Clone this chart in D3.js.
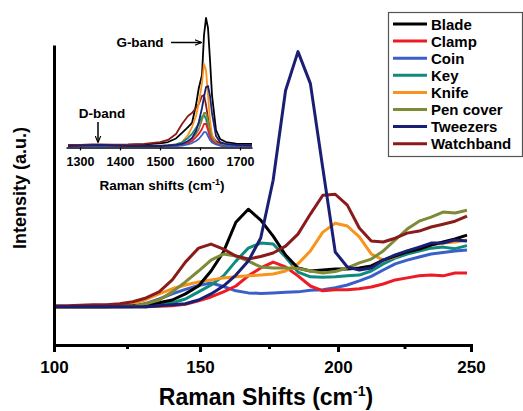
<!DOCTYPE html>
<html>
<head>
<meta charset="utf-8">
<script src="https://cdn.jsdelivr.net/npm/d3@7"></script>
<style>
body { margin: 0; background: #fff; }
text { font-family: Arial, "Liberation Sans", sans-serif; font-weight: bold; fill: #000; }
</style>
</head>
<body>
<script>
// series names and colours, legend order
var names = ['Blade', 'Clamp', 'Coin', 'Key', 'Knife', 'Pen cover', 'Tweezers', 'Watchband']
var colors = ['#000000', '#ed1c24', '#3a5fc8', '#0f8a7e', '#f7941d', '#7e8a36', '#1b1f74', '#8b1b1b']

// main plot x values (cm-1)
var shifts = [100, 104.5, 109, 113.5, 118, 122.5, 127, 131.5, 136, 140.5, 145, 149.5, 154, 158.5, 163, 167.5, 172,
  176.5, 181, 185.5, 190, 194.5, 199, 203.5, 208, 212.5, 217, 221.5, 226, 230.5, 235, 239.5, 244, 248.5]

// main plot intensities (a.u.), one array per sample
var blade = [0, 0, 0, 0, 0, 0.2, 0.4, 0.8, 1.6, 2.7, 5.1, 8.2, 14.1, 21.6, 33.3, 38.4, 34.1, 27.8, 20.4, 15.3,
  14.1, 14.5, 14.9, 14.9, 15.3, 16.1, 18.4, 20, 21.6, 22.7, 24.3, 25.5, 26.7, 28.2]
var clamp = [0, 0, 0, 0, 0, 0, 0, 0, 0.2, 0.4, 1.0, 2.4, 3.9, 5.9, 8.2, 12.2, 15.3, 17.6, 15.7, 12.2,
  8.2, 6.3, 6.7, 6.7, 7.1, 7.8, 9.0, 10.6, 11.4, 12.2, 12.5, 12.2, 13.3, 13.3]
var coin = [0, 0, 0, 0, 0, 0, 0, 1.4, 3.1, 5.1, 6.9, 8.4, 9.4, 8.0, 6.3, 5.5, 5.3, 5.5, 5.7, 5.9,
  6.5, 6.7, 7.5, 8.6, 10.2, 12.0, 14.5, 16.9, 18.4, 19.6, 20.8, 21.4, 22.0, 22.4]
var key = [0, 0, 0, 0, 0, 0, 0, 0, 0.6, 1.6, 3.1, 5.9, 8.6, 12.2, 18.0, 23.1, 25.1, 24.7, 19.6, 13.7,
  11.8, 11.6, 11.8, 12.2, 12.5, 14.1, 16.9, 19.2, 20.8, 22.0, 23.1, 23.5, 22.9, 24.1]
var knife = [0, 0, 0, 0, 0, 0.4, 1.2, 2.9, 5.1, 7.1, 8.6, 9.8, 10.6, 11.4, 11.8, 12.2, 12.5, 12.9, 14.1, 16.9,
  22.0, 29.4, 32.9, 31.8, 27.5, 20.8, 18.4, 19.6, 22.0, 23.1, 24.3, 25.1, 25.5, 26.3]
var penCover = [0, 0, 0, 0, 0, 0, 0.2, 1.2, 2.7, 5.9, 9.8, 14.1, 18.4, 20.8, 20.0, 18.0, 15.7, 15.3, 15.3, 15.1,
  14.1, 13.3, 13.9, 15.3, 17.3, 18.8, 22.0, 26.3, 30.6, 33.7, 35.3, 37.3, 36.9, 38.0]
var tweezers = [0, 0, 0, 0, 0, 0, 0, 0, 0.4, 0.8, 1.2, 2.7, 5.1, 8.2, 12.5, 18.0, 27.1, 49.8, 85.1, 100.4,
  87.8, 54.5, 21.6, 15.7, 14.5, 15.3, 18.4, 20.4, 22.0, 23.5, 25.1, 25.1, 26.3, 25.9]
var watchband = [0.4, 0.4, 0.6, 0.8, 0.8, 1.2, 2.0, 3.5, 5.9, 10.6, 17.6, 23.1, 24.7, 22.7, 20, 18.8, 19.8, 21.2, 23.9, 28.6,
  36.5, 43.9, 44.3, 40, 31, 25.9, 25.5, 27, 29, 29.8, 31.4, 32.5, 33.7, 35.7]

// inset x values (cm-1)
var insetShifts = [1270, 1300, 1330, 1350, 1380, 1420, 1460, 1500, 1520, 1540, 1555, 1570, 1580, 1590, 1597,
  1605, 1610, 1615, 1620, 1625, 1630, 1640, 1650, 1665, 1690, 1730]

// inset intensities
var insetBlade = [0.4, 0.5, 0.6, 0.8, 0.5, 0.8, 1.2, 2.0, 3.1, 5.9, 10.2, 14.8, 18.0, 32.0, 45.3,
  55.5, 86.7, 100, 92.2, 67.2, 39.8, 12.5, 5.5, 3.1, 1.9, 1.6]
var insetClamp = [0, 0, 0, 0, 0, 0, 0, 0, 0, 0.4, 0.8, 2.3, 3.9, 7.0, 9.4,
  13.3, 17.2, 17.2, 12.5, 7.0, 3.9, 1.6, 0.4, 0, 0, 0]
var insetCoin = [0, 0, 0, 0, 0, 0, 0, 0, 0, 0, 0.4, 1.2, 2.3, 3.9, 5.5,
  8.6, 10.9, 10.9, 7.8, 4.7, 2.7, 1.2, 0.4, 0, 0, 0]
var insetKey = [0, 0, 0, 0, 0, 0, 0, 0, 0.4, 1.2, 2.7, 6.3, 9.4, 14.1, 17.2,
  22.7, 24.2, 21.1, 14.1, 7.8, 4.7, 1.6, 0.8, 0.4, 0, 0]
var insetKnife = [0, 0, 0, 0, 0, 0, 0, 0, 0.4, 1.2, 3.1, 8.6, 14.8, 23.4, 33.6,
  49.2, 64.1, 59.4, 39.8, 20.3, 8.6, 2.3, 0.8, 0.4, 0, 0]
var insetPenCover = [0, 0, 0, 0, 0, 0, 0, 0, 0, 0.4, 1.2, 3.1, 5.5, 9.4, 13.3,
  20.3, 25.8, 25.8, 19.5, 11.7, 6.3, 2.3, 0.8, 0.4, 0, 0]
var insetTweezers = [0, 0.3, 0.6, 0.8, 0.4, 0, 0, 0, 0.4, 0.8, 1.6, 3.9, 6.3, 11.7, 18.8,
  29.7, 38.3, 46.1, 46.9, 39.1, 25.8, 7.8, 3.1, 1.6, 0.8, 0.4]
var insetWatchband = [0.8, 0.9, 1.2, 1.3, 1.1, 1.2, 1.6, 3.1, 4.7, 9.4, 17.2, 23.4, 25.8, 29.7, 32.8,
  39.1, 39.8, 32.0, 21.9, 14.1, 7.8, 3.9, 2.0, 1.2, 0.8, 0.4]

// tick labels
var xTicks = [100, 150, 200, 250]
var xMinorTicks = [125, 175, 225]
var insetTicks = [1300, 1400, 1500, 1600, 1700]

var mainSeries = [blade, clamp, coin, key, knife, penCover, tweezers, watchband]
var insetSeries = [insetBlade, insetClamp, insetCoin, insetKey, insetKnife, insetPenCover, insetTweezers, insetWatchband]

var width = 523
var height = 411

let xScale, yScale, insetX, insetY

const canvas = () => {
  d3.select('body').append('svg')
    .attr('width', width)
    .attr('height', height)
}

const makeScales = () => {
  // the printed axis is not quite even, so map each labelled tick
  xScale = d3.scaleLinear()
    .domain([100, 150, 200, 250])
    .range([54, 200, 338, 471])
  yScale = d3.scaleLinear()
    .domain([-15, 103])
    .range([345, 45])
  insetX = d3.scaleLinear()
    .domain([1265, 1730])
    .range([66, 252])
  insetY = d3.scaleLinear()
    .domain([0, 100])
    .range([146, 18])
}

const drawAxes = () => {
  let svg = d3.select('svg')

  let xAxis = svg.append('g')
    .attr('transform', 'translate(0,' + yScale(-15) + ')')
    .call(d3.axisBottom(xScale).tickValues(xTicks).tickSize(7).tickSizeOuter(0).tickPadding(9))
  xAxis.select('.domain').attr('stroke-width', 3).attr('stroke-linecap', 'square')
  xAxis.selectAll('.tick line').attr('stroke-width', 3)
  xAxis.selectAll('.tick text').style('font-size', '17px').attr('font-family', null)

  let minor = svg.append('g')
    .attr('transform', 'translate(0,' + yScale(-15) + ')')
    .call(d3.axisBottom(xScale).tickValues(xMinorTicks).tickSize(4).tickFormat(''))
  minor.select('.domain').remove()
  minor.selectAll('.tick line').attr('stroke-width', 3)

  let yAxis = svg.append('g')
    .attr('transform', 'translate(' + xScale(100) + ',0)')
    .call(d3.axisLeft(yScale).tickValues([]).tickSizeOuter(0))
  yAxis.select('.domain').attr('stroke-width', 3)

  svg.append('text')
    .attr('x', 266)
    .attr('y', 405)
    .attr('text-anchor', 'middle')
    .style('font-size', '23px')
    .html('Raman Shifts (cm<tspan dy="-9" style="font-size:14px">-1</tspan><tspan dy="9">)</tspan>')

  svg.append('text')
    .attr('transform', 'translate(26,188) rotate(-90)')
    .attr('text-anchor', 'middle')
    .style('font-size', '18px')
    .text('Intensity (a.u.)')
}

const drawLines = () => {
  let svg = d3.select('svg')
  let line = d3.line()
    .x((d, i) => xScale(shifts[i]))
    .y((d) => yScale(d))

  // drawing order so the tall peaks stay on top
  let order = [2, 1, 3, 4, 0, 5, 7, 6]
  order.forEach((k) => {
    svg.append('path')
      .datum(mainSeries[k])
      .attr('d', line)
      .attr('fill', 'none')
      .attr('stroke', colors[k])
      .attr('stroke-width', 3)
      .attr('stroke-linejoin', 'round')
  })
}

const drawInset = () => {
  let svg = d3.select('svg')
  let g = svg.append('g')

  let line = d3.line()
    .x((d, i) => insetX(insetShifts[i]))
    .y((d) => insetY(d))

  let order = [0, 7, 4, 3, 5, 1, 2, 6]
  order.forEach((k) => {
    g.append('path')
      .datum(insetSeries[k])
      .attr('d', line)
      .attr('fill', 'none')
      .attr('stroke', colors[k])
      .attr('stroke-width', 1.8)
      .attr('stroke-linejoin', 'round')
  })

  let ax = g.append('g')
    .attr('transform', 'translate(0,147.5)')
    .call(d3.axisBottom(insetX).tickValues(insetTicks).tickSize(3).tickSizeOuter(0)
      .tickPadding(7).tickFormat(d3.format('d')))
  ax.select('.domain').attr('stroke-width', 1.5)
  ax.selectAll('.tick line').attr('stroke-width', 1.2)
  ax.selectAll('.tick text').style('font-size', '12.5px').attr('font-family', null)

  g.append('text')
    .attr('x', 162)
    .attr('y', 190)
    .attr('text-anchor', 'middle')
    .style('font-size', '13.5px')
    .html('Raman shifts (cm<tspan dy="-5" style="font-size:9px">-1</tspan><tspan dy="5">)</tspan>')

  // band annotations
  svg.append('defs').append('marker')
    .attr('id', 'arrow')
    .attr('viewBox', '0 0 10 10')
    .attr('refX', 9).attr('refY', 5)
    .attr('markerWidth', 7).attr('markerHeight', 7)
    .attr('markerUnits', 'userSpaceOnUse')
    .attr('orient', 'auto')
    .append('path')
    .attr('d', 'M0,1 L10,5 L0,9')
    .attr('fill', 'none')
    .attr('stroke', '#000')
    .attr('stroke-width', 1.6)

  g.append('text')
    .attr('x', 140).attr('y', 47)
    .attr('text-anchor', 'middle')
    .style('font-size', '13.5px')
    .text('G-band')
  g.append('line')
    .attr('x1', 171).attr('y1', 42.5)
    .attr('x2', 201).attr('y2', 42.5)
    .attr('stroke', '#000').attr('stroke-width', 1.5)
    .attr('marker-end', 'url(#arrow)')

  g.append('text')
    .attr('x', 102).attr('y', 118)
    .attr('text-anchor', 'middle')
    .style('font-size', '13.5px')
    .text('D-band')
  g.append('line')
    .attr('x1', insetX(1345)).attr('y1', 122)
    .attr('x2', insetX(1345)).attr('y2', 142)
    .attr('stroke', '#000').attr('stroke-width', 1.5)
    .attr('marker-end', 'url(#arrow)')
}

const drawLegend = () => {
  let svg = d3.select('svg')
  let lg = svg.append('g')

  lg.append('rect')
    .attr('x', 388.5).attr('y', 12.5)
    .attr('width', 134).attr('height', 144)
    .attr('fill', '#fff')
    .attr('stroke', '#555')
    .attr('stroke-width', 1.2)

  names.forEach((n, i) => {
    let y = 24 + i * 17.1
    lg.append('line')
      .attr('x1', 393).attr('x2', 427)
      .attr('y1', y).attr('y2', y)
      .attr('stroke', colors[i])
      .attr('stroke-width', 3)
    lg.append('text')
      .attr('x', 431).attr('y', y + 5.5)
      .style('font-size', '15px')
      .text(n)
  })
}

canvas()
makeScales()
drawLines()
drawInset()
drawAxes()
drawLegend()
</script>
</body>
</html>
